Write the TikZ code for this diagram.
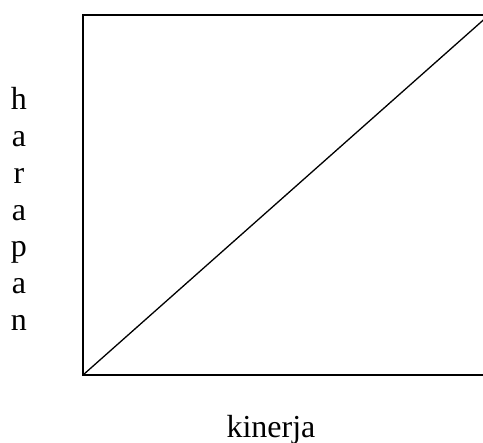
\documentclass[tikz,border=0pt]{standalone}
\usepackage{fontspec}
\setmainfont{Liberation Serif}
\usetikzlibrary{positioning}

\begin{document}
\begin{tikzpicture}[
  x=1pt, y=-1pt,
  every node/.style={font=\fontsize{32}{38}\selectfont, inner sep=0pt},
  frame/.style={line width=1.9pt},
  axislbl/.style={anchor=base},
]
  \useasboundingbox (0,0) rectangle (483,443);

  % plot area
  \coordinate (lo) at (83,375);
  \coordinate (hi) at (489,15);
  \draw[frame] (lo) rectangle (hi);
  \draw[line width=1.3pt] (lo) -- (hi);

  % vertical axis label, one letter per line
  \foreach \ch [count=\i from 0] in {h,a,r,a,p,a,n}
    \node[axislbl] (v\i) at (19,110+36.7*\i) {\ch};

  % horizontal axis label
  \node[axislbl] (kin) at (271,438) {kinerja};
\end{tikzpicture}
\end{document}
